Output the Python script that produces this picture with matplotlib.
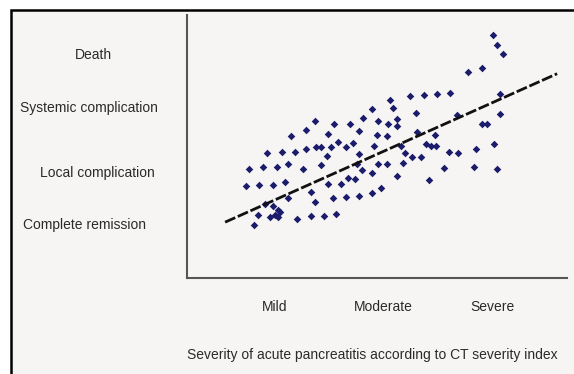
import matplotlib.pyplot as plt
from matplotlib.patches import Rectangle
from matplotlib.transforms import blended_transform_factory

# Severity grade on CT (1 = mild, 2 = moderate, 3 = severe) for each patient
severity = [3.01, 3.05, 3.10, 2.78, 2.91, 3.07, 3.07, 2.91, 2.95, 3.02,
            2.85, 3.05, 2.83, 2.56, 2.61, 2.49, 2.37, 2.24, 2.06, 2.09,
            1.89, 2.30, 2.12, 2.12, 2.04, 1.95, 1.81, 1.69, 1.54, 1.37,
            1.29, 1.15, 1.49, 1.77, 1.94, 2.03, 2.31, 2.47, 2.68, 2.39,
            2.44, 2.48, 1.58, 1.52, 1.42, 1.38, 1.29, 1.18, 1.06, 1.65,
            1.72, 1.91, 2.16, 2.20, 2.26, 2.35, 2.60, 2.69, 1.48, 1.77,
            1.12, 1.26, 1.42, 1.76, 1.95, 2.03, 2.18, 1.80, 1.89, 2.12,
            2.42, 1.49, 1.61, 1.67, 1.74, 1.09, 1.98, 1.89, 1.77, 1.65,
            1.53, 1.37, 1.33, 1.56, 1.45, 1.33, 1.20, 1.05, 0.93, 0.76,
            0.89, 1.02, 0.73, 0.85, 0.98, 1.12, 0.91, 0.98, 1.03, 0.84,
            0.95, 1.00, 1.03, 0.81]

# Clinical outcome score (1 = complete remission ... 4 = death)
outcome = [4.35, 4.18, 4.02, 3.70, 3.77, 3.31, 2.96, 2.78, 2.78, 2.43,
           2.34, 1.99, 2.02, 2.01, 3.33, 3.31, 3.29, 3.28, 3.21, 3.07,
           3.05, 2.98, 2.87, 2.75, 2.78, 2.84, 2.89, 2.78, 2.78, 2.84,
           2.68, 2.57, 2.61, 2.66, 2.59, 2.57, 2.64, 2.59, 2.94, 2.43,
           2.39, 2.39, 2.47, 2.38, 2.38, 2.38, 2.34, 2.29, 2.29, 2.38,
           2.45, 2.39, 2.39, 2.27, 2.20, 2.20, 2.29, 2.27, 2.22, 2.25,
           2.08, 1.99, 2.06, 2.08, 2.08, 2.08, 2.09, 1.97, 1.92, 1.87,
           1.79, 1.72, 1.72, 1.83, 1.81, 1.76, 1.65, 1.57, 1.51, 1.49,
           1.48, 1.41, 1.58, 1.19, 1.16, 1.16, 1.11, 1.23, 2.27, 1.99,
           2.02, 2.02, 1.69, 1.71, 1.71, 1.48, 1.37, 1.34, 1.27, 1.18,
           1.14, 1.18, 1.14, 1.00]

# Trend line end points
trend_x = [0.54, 3.60]
trend_y = [1.05, 3.67]

severity_labels = ["Mild", "Moderate", "Severe"]
severity_ticks = [1, 2, 3]

outcome_labels = ["Death", "Systemic complication", "Local complication", "Complete remission"]
outcome_ticks = [4.0, 3.06, 1.92, 1.0]
outcome_label_x = [-0.245, -0.258, -0.237, -0.271]

bg = "#f6f5f3"
txt = "#2a2a2a"
fs = 10.0
plt.rcParams['font.family'] = ['Liberation Sans', 'DejaVu Sans']

fig = plt.figure(figsize=(5.74, 3.74), dpi=100, facecolor="white")

# panel frame, open to the right and bottom
fig.patches.append(Rectangle((11.3 / 574, -0.2), 1.0, 1.2 - 9.7 / 374,
                             transform=fig.transFigure, facecolor=bg,
                             edgecolor="black", lw=1.8, zorder=-1))

ax = fig.add_axes([187 / 574, 1 - 278 / 374, 380 / 574, 263 / 374])
ax.set_facecolor("none")

ax.scatter(severity, outcome, marker="D", s=15, color="#1c1c6c", linewidths=0, zorder=3)
ax.plot(trend_x, trend_y, color="#111111", lw=2.0, ls=(0, (4, 1)), zorder=4)

ax.set_xlim(0.189, 3.691)
ax.set_ylim(0.065, 4.706)

for side in ["top", "right"]:
    ax.spines[side].set_visible(False)
for side in ["left", "bottom"]:
    ax.spines[side].set_color("#555555")
    ax.spines[side].set_linewidth(1.5)

ax.set_xticks(severity_ticks)
ax.set_xticklabels(severity_labels, fontsize=fs, color=txt)
ax.tick_params(axis="x", length=0, pad=16)
ax.set_yticks([])

trans = blended_transform_factory(ax.transAxes, ax.transData)
for lab, yv, xv in zip(outcome_labels, outcome_ticks, outcome_label_x):
    ax.text(xv, yv, lab, transform=trans, ha="center", va="center",
            fontsize=fs, color=txt)

fig.text(372 / 574, 1 - 355 / 374,
         "Severity of acute pancreatitis according to CT severity index",
         ha="center", va="center", fontsize=fs, color=txt)

fig.savefig("out.png", dpi=100, facecolor="white")
